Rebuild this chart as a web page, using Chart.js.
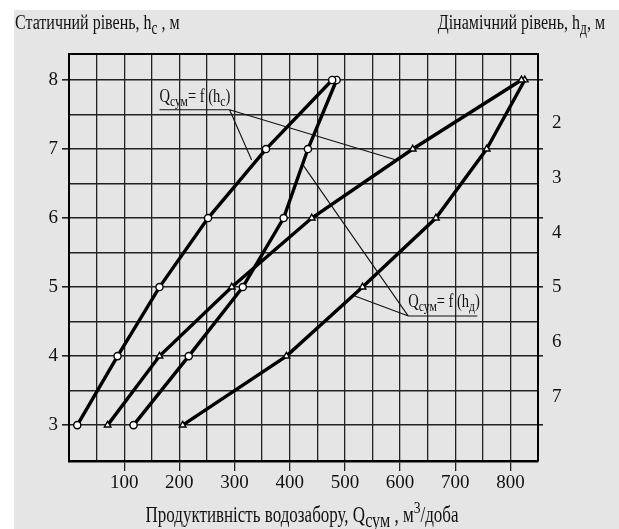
<!DOCTYPE html>
<html>
<head>
<meta charset="utf-8">
<script src="https://cdn.jsdelivr.net/npm/chart.js@4.4.1/dist/chart.umd.min.js"></script>
<style>
  html, body { margin: 0; padding: 0; background: #fff; }
  #wrap { width: 619px; height: 529px; }
</style>
</head>
<body>
<div id="wrap"><canvas id="chart" width="619" height="529"></canvas></div>
<script>
// levels, m (left axis) and discharge of the water intake, m3/day
const levels = [3, 4, 5, 6, 7, 8];
const qStaticA = [15, 88, 164, 252, 357, 477];
const qStaticB = [117, 217, 315, 389, 433, 485];
const qDynamicC = [70, 164, 295, 440, 623, 820];
const qDynamicD = [206, 394, 532, 665, 757, 826];
const staticTicks = [3, 4, 5, 6, 7, 8];
const dynamicTicks = [2, 3, 4, 5, 6, 7];
const qTicks = [100, 200, 300, 400, 500, 600, 700, 800];

const FONT = "'Liberation Serif', 'Times New Roman', serif";
const INK = '#111';
const GRID = '#222';

const toPoints = (xs) => xs.map((x, i) => ({ x, y: levels[i] }));

function series(xs, style) {
  return {
    data: toPoints(xs),
    showLine: true,
    tension: 0,
    borderColor: '#000',
    borderWidth: 3.4,
    pointStyle: style,
    pointRadius: style === 'circle' ? 3.6 : 3.8,
    pointBackgroundColor: '#fff',
    pointBorderColor: '#000',
    pointBorderWidth: 1.4
  };
}

// draws a text made of runs, some of them sub/superscript
function drawRich(ctx, runs, x, y, size, align, stretch) {
  const parts = runs.map(r => {
    const s = (r.sub || r.sup) ? size * (r.scale || 0.75) : size;
    ctx.font = `${s}px ${FONT}`;
    return { r, s, w: ctx.measureText(r.t).width };
  });
  const total = parts.reduce((a, p) => a + p.w, 0);
  let cx = align === 'center' ? x - total / 2 : align === 'right' ? x - total : x;
  ctx.save();
  ctx.fillStyle = INK;
  ctx.textBaseline = 'alphabetic';
  ctx.textAlign = 'left';
  ctx.translate(0, y);
  ctx.scale(1, stretch);
  parts.forEach(p => {
    ctx.font = `${p.s}px ${FONT}`;
    const dy = p.r.sub ? size * 0.22 : p.r.sup ? -size * 0.42 : 0;
    ctx.fillText(p.r.t, cx, dy);
    cx += p.w;
  });
  ctx.restore();
  return total;
}

// leader notes, in data coordinates
const noteStatic = { x: 164, y: 7.68, lineY: 7.57, lineTo: 291, ends: [[331, 6.84], [593, 6.84]] };
const noteDynamic = { x: 615, y: 4.71, lineY: 4.58, lineTo: 740, ends: [[518, 4.87], [424, 6.77]] };

const backdrop = {
  id: 'backdrop',
  beforeDraw(chart) {
    const { ctx, width, height } = chart;
    ctx.save();
    ctx.fillStyle = '#fff';
    ctx.fillRect(0, 0, width, height);
    ctx.fillStyle = '#e5e5e5';
    ctx.fillRect(14, 10, width - 14, height - 10);
    ctx.restore();
  }
};

const notes = {
  id: 'notes',
  afterDatasetsDraw(chart) {
    const { ctx } = chart;
    const sx = chart.scales.x, sy = chart.scales.y;
    const px = v => sx.getPixelForValue(v), py = v => sy.getPixelForValue(v);

    [[noteStatic, 'c'], [noteDynamic, 'д']].forEach(([n, idx]) => {
      ctx.save();
      ctx.strokeStyle = '#111';
      ctx.lineWidth = 1.1;
      ctx.beginPath();
      ctx.moveTo(px(n.x), py(n.lineY));
      ctx.lineTo(px(n.lineTo), py(n.lineY));
      const ax = idx === 'c' ? n.lineTo : n.x;
      n.ends.forEach(([ex, ey]) => {
        ctx.moveTo(px(ax), py(n.lineY));
        ctx.lineTo(px(ex), py(ey));
      });
      ctx.stroke();
      ctx.restore();
      drawRich(ctx, [
        { t: 'Q' }, { t: 'сум', sub: true, scale: 0.8 }, { t: '= f (h' },
        { t: idx, sub: true, scale: 0.8 }, { t: ')' }
      ], px(n.x), py(n.y), 14.5, 'left', 1.3);
    });

    // axis titles
    drawRich(ctx, [{ t: 'Статичний рівень, h' }, { t: 'c', sub: true, scale: 0.85 }, { t: ' , м' }],
      15, 29, 16, 'left', 1.35);
    drawRich(ctx, [{ t: 'Дінамічний рівень, h' }, { t: 'д', sub: true, scale: 0.85 }, { t: ', м' }],
      605, 29, 16, 'right', 1.35);
    drawRich(ctx, [
      { t: 'Продуктивність водозабору, Q' }, { t: 'сум', sub: true, scale: 0.95 },
      { t: ' , м' }, { t: '3', sup: true, scale: 0.8 }, { t: '/доба' }
    ], 302, 522, 17, 'center', 1.3);
  }
};

const gridWidth = 1.3;

new Chart(document.getElementById('chart'), {
  type: 'scatter',
  data: {
    datasets: [
      series(qStaticA, 'circle'),
      series(qStaticB, 'circle'),
      series(qDynamicC, 'triangle'),
      series(qDynamicD, 'triangle')
    ]
  },
  options: {
    responsive: false,
    animation: false,
    devicePixelRatio: 1,
    layout: { padding: { top: 54, left: 0, right: 0, bottom: 0 } },
    plugins: { legend: { display: false }, tooltip: { enabled: false } },
    scales: {
      x: {
        type: 'linear', position: 'bottom', min: 0, max: 850,
        ticks: {
          stepSize: 50, color: INK, padding: 1, maxRotation: 0, autoSkip: false,
          font: { family: FONT, size: 19 },
          callback: v => qTicks.includes(v) ? String(v) : ''
        },
        grid: {
          color: GRID, lineWidth: gridWidth, tickLength: 10,
          tickColor: c => qTicks.includes(c.tick.value) ? GRID : 'rgba(0,0,0,0)'
        },
        border: { color: '#000', width: 2.4 },
        afterFit: s => { s.height = 68; }
      },
      xTop: {
        type: 'linear', position: 'top', min: 0, max: 850,
        ticks: { display: false },
        grid: { drawOnChartArea: false, drawTicks: false },
        border: { color: '#000', width: 2 },
        afterFit: s => { s.height = 0; }
      },
      y: {
        type: 'linear', position: 'left', min: 2.48, max: 8.377,
        ticks: {
          stepSize: 0.5, color: INK, padding: 4, autoSkip: false,
          font: { family: FONT, size: 19 },
          callback: v => staticTicks.includes(v) ? String(v) : ''
        },
        grid: {
          color: GRID, lineWidth: 1.6, tickLength: 7,
          tickColor: c => staticTicks.includes(c.tick.value) ? GRID : 'rgba(0,0,0,0)'
        },
        border: { color: '#000', width: 2 },
        afterFit: s => { s.width = 69; }
      },
      yRight: {
        type: 'linear', position: 'right', min: 2.48, max: 8.377, weight: 0,
        ticks: { display: false, stepSize: 0.5 },
        grid: {
          drawOnChartArea: false, tickLength: 5, lineWidth: 1.6,
          tickColor: c => staticTicks.includes(c.tick.value) ? GRID : 'rgba(0,0,0,0)'
        },
        border: { color: '#000', width: 2 },
        afterFit: s => { s.width = 5; }
      },
      yDynamic: {
        type: 'linear', position: 'right', reverse: true, min: 0.74, max: 8.17, weight: 1,
        ticks: {
          stepSize: 1, color: INK, padding: 9, autoSkip: false,
          font: { family: FONT, size: 19 },
          callback: v => dynamicTicks.includes(v) ? String(v) : ''
        },
        grid: { display: false, drawTicks: false },
        border: { display: false },
        afterFit: s => { s.width = 76; }
      }
    }
  },
  plugins: [backdrop, notes]
});
</script>
</body>
</html>
